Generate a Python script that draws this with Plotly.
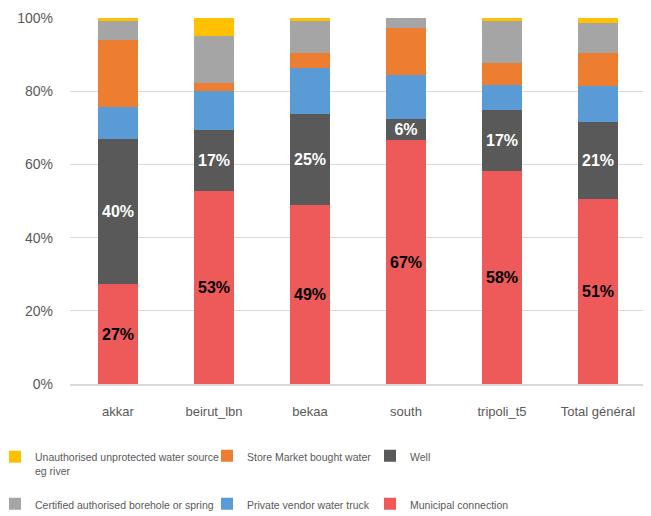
import plotly.graph_objects as go

categories = ["akkar", "beirut_lbn", "bekaa", "south", "tripoli_t5", "Total général"]

municipal = [27.3, 52.6, 48.8, 66.6, 58.1, 50.6]
well = [39.6, 16.8, 25.1, 5.9, 16.9, 21.0]
private_truck = [8.9, 10.6, 12.4, 11.8, 6.6, 9.9]
store_market = [18.1, 2.2, 4.1, 13.1, 6.1, 9.0]
certified = [5.2, 12.9, 8.7, 2.6, 11.4, 8.0]
unauthorised = [0.9, 4.9, 0.9, 0.0, 0.9, 1.5]

y_ticks = [0, 20, 40, 60, 80, 100]
y_tick_labels = ["0%", "20%", "40%", "60%", "80%", "100%"]

FONT = "Liberation Sans, Arial, sans-serif"
W, H = 651, 516
OFF = 8  # page body margin offset
# desired page-pixel plot area: x 70..646, y 18..384
ML, MT = 70 - OFF, 18 - OFF
MR = W - (646 - OFF)
MB = H - (384 - OFF)
PW, PH = W - ML - MR, H - MT - MB

series = [
    # name, values, color, label font color, legend id, legend text (page x px, center y px)
    ("Municipal connection", municipal, "#EE5A5A", "black", "legend6", (410, 505)),
    ("Well", well, "#595959", "white", "legend3", (410, 457)),
    ("Private vendor water truck", private_truck, "#5B9BD5", None, "legend5", (247, 505)),
    ("Store Market bought water", store_market, "#ED7D31", None, "legend2", (247, 457)),
    ("Certified authorised borehole or spring", certified, "#A5A5A5", None, "legend4", (35, 505)),
    ("Unauthorised unprotected water source<br>eg river", unauthorised, "#FFC000", None, "legend", (35, 464)),
]

fig = go.Figure()
legends = {}
for name, vals, color, lab_color, leg, (tx, ty) in series:
    if lab_color:
        kw = dict(
            texttemplate="%{y:.0f}%",
            textposition="inside",
            insidetextanchor="middle",
            textangle=0,
            constraintext="none",
            textfont=dict(family=FONT, size=16, color=lab_color, weight="bold"),
        )
    else:
        kw = dict(textposition="none")
    fig.add_trace(go.Bar(
        x=categories, y=vals, name=name, marker=dict(color=color, line=dict(width=0)),
        legend=leg, **kw,
    ))
    fx = tx - OFF - 40
    fy = ty - OFF
    legends[leg] = dict(
        x=(fx - ML) / PW, y=(H - MB - fy) / PH,
        xref="paper", yref="paper",
        xanchor="left", yanchor="middle", valign="top",
        font=dict(family=FONT, size=10.5, color="#595959"),
        bgcolor="rgba(0,0,0,0)", borderwidth=0,
    )

fig.update_layout(
    width=W, height=H,
    barmode="stack", bargap=0.59,
    plot_bgcolor="white", paper_bgcolor="white",
    margin=dict(l=ML, r=MR, t=MT, b=MB, autoexpand=False),
    showlegend=True,
    **legends,
)
fig.update_yaxes(
    range=[0, 100], tickvals=y_ticks, ticktext=y_tick_labels,
    showgrid=True, gridcolor="#D9D9D9", gridwidth=1,
    zeroline=False, showline=False,
    tickfont=dict(family=FONT, size=14, color="#595959"),
    ticklabelstandoff=16,
)
fig.update_xaxes(
    showline=True, linecolor="#D9D9D9", linewidth=2,
    tickfont=dict(family=FONT, size=13, color="#595959"),
    ticklabelstandoff=14,
)

fig.write_html("out.html")
